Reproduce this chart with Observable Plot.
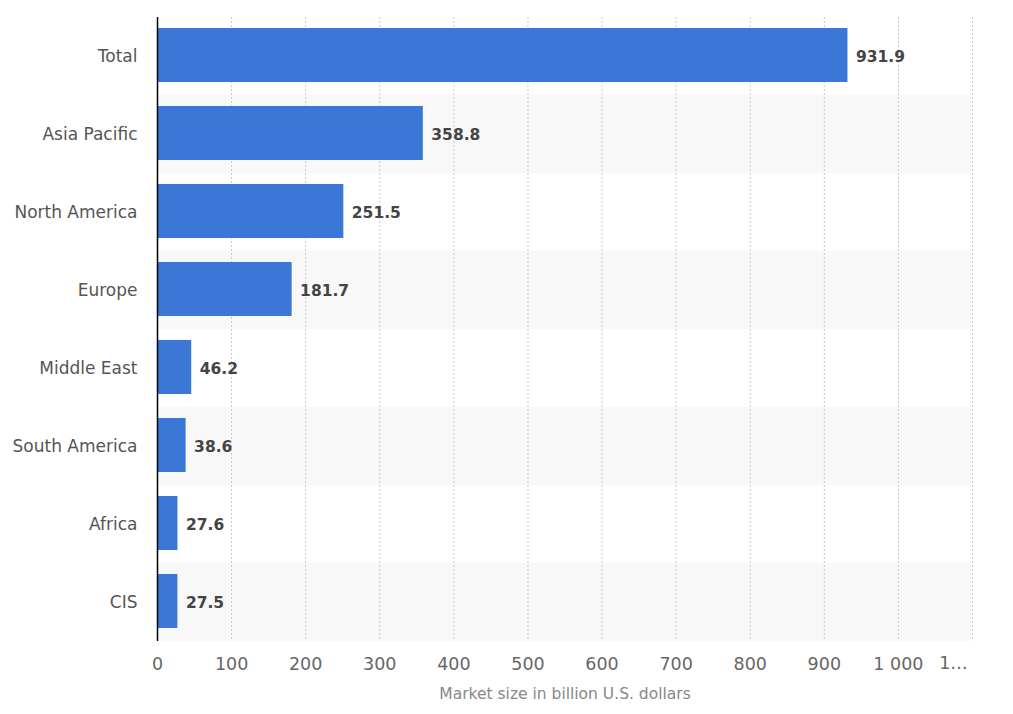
<!DOCTYPE html>
<html><head><meta charset="utf-8">
<script src="https://cdn.jsdelivr.net/npm/d3@7"></script>
<script src="https://cdn.jsdelivr.net/npm/@observablehq/plot@0.6"></script>
<style>
html,body{margin:0;padding:0;background:#fff;}
</style>
</head><body>
<div id="chart"></div>
<script>
const regions = ["Total","Asia Pacific","North America","Europe","Middle East","South America","Africa","CIS"];
const values = [931.9,358.8,251.5,181.7,46.2,38.6,27.6,27.5];
const xTicks = [0,100,200,300,400,500,600,700,800,900,1000,1100];
const xTickLabels = ["0","100","200","300","400","500","600","700","800","900","1 000","1…"];
const xTitle = "Market size in billion U.S. dollars";

const data = regions.map((r,i)=>({region:r, value:values[i], idx:i}));
const stripes = data.filter(d=>d.idx%2===1);
const font = "DejaVu Sans, sans-serif";
const lastTick = xTicks[xTicks.length-1];

const chart = Plot.plot({
  width: 1013,
  height: 714,
  marginLeft: 157,
  marginRight: 41,
  marginTop: 17,
  marginBottom: 73,
  style: {fontFamily: font, fontSize: "15px", color: "#666", background: "#fff"},
  x: {domain:[0,1100], label: null},
  y: {domain: regions, padding: 0, label: null},
  marks: [
    Plot.barX(stripes, {y:"region", x1:0, x2:1100, fill:"#f8f8f8"}),
    Plot.ruleX(xTicks.slice(1), {stroke:"#c8c8c8", strokeDasharray:"2,2", strokeWidth:1}),
    Plot.barX(data, {y:"region", x:"value", fill:"#3b77d6", insetTop:11, insetBottom:13}),
    Plot.text(data, {y:"region", x:"value", text: d=>d.value.toFixed(1), textAnchor:"start", dx:8, dy:1, fill:"#444", fontWeight:"bold", fontSize:15.5}),
    Plot.ruleX([0], {stroke:"#000", strokeWidth:1.5}),
    Plot.axisY({tickSize:0, tickPadding:20, fontSize:17, color:"#555", label:null}),
    Plot.axisX({ticks:xTicks.slice(0,-1), tickFormat: d => xTickLabels[xTicks.indexOf(d)], tickSize:0, tickPadding:16, fontSize:17.5, color:"#666", label:null}),
    Plot.text([lastTick], {x:d=>d, frameAnchor:"bottom", dy:27, dx:-19, text:d=>xTickLabels[xTicks.indexOf(d)], fontSize:17.5, fill:"#666"}),
    Plot.text([xTitle], {frameAnchor:"bottom", dy:57, fontSize:15.5, fill:"#888", text:d=>d})
  ]
});
document.getElementById("chart").appendChild(chart);
</script>
</body></html>
